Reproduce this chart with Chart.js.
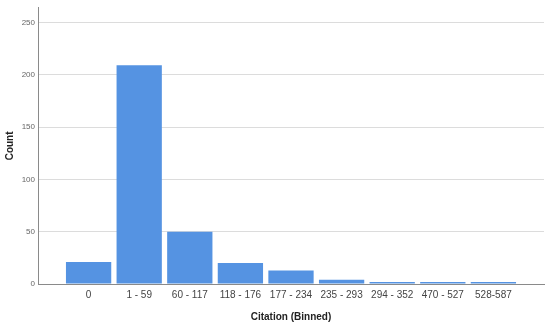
<!DOCTYPE html>
<html>
<head>
<meta charset="utf-8">
<script src="https://cdn.jsdelivr.net/npm/chart.js@4/dist/chart.umd.min.js"></script>
<style>
html,body{margin:0;padding:0;background:#fff;}
#wrap{width:550px;height:329px;position:relative;}
</style>
</head>
<body>
<div id="wrap"><canvas id="c" width="550" height="329"></canvas></div>
<script>
const categories = ["0", "1 - 59", "60 - 117", "118 - 176", "177 - 234", "235 - 293", "294 - 352", "470 - 527", "528-587"];
const counts = [21, 209, 50, 20, 13, 4, 2, 2, 2];
const yTicks = [0, 50, 100, 150, 200, 250];

const points = categories.map((c, i) => ({ x: i, y: counts[i] }));

new Chart(document.getElementById('c'), {
  type: 'bar',
  data: {
    datasets: [{
      data: points,
      backgroundColor: '#5593e2',
      borderWidth: 0,
      barPercentage: 0.895,
      categoryPercentage: 1.0
    }]
  },
  options: {
    responsive: false,
    animation: false,
    devicePixelRatio: 1,
    layout: { padding: { top: 5, right: 6, left: 0, bottom: 0 } },
    plugins: { legend: { display: false }, tooltip: { enabled: false } },
    scales: {
      x: {
        type: 'linear',
        min: -1,
        max: 9,
        offset: false,
        grid: { display: false, drawTicks: false },
        border: { display: true, color: '#8a8a8a', width: 1 },
        afterBuildTicks: (s) => { s.ticks = categories.map((c, i) => ({ value: i })); },
        afterFit: (s) => { s.height = 45; },
        ticks: {
          autoSkip: false,
          maxRotation: 0,
          padding: 5,
          color: '#444',
          font: { family: 'Liberation Sans, Arial, sans-serif', size: 10 },
          callback: (v) => categories[v] !== undefined ? categories[v] : ''
        },
        title: {
          display: true,
          text: 'Citation (Binned)',
          color: '#222',
          padding: { top: 6, bottom: 6 },
          font: { family: 'Liberation Sans, Arial, sans-serif', size: 10, weight: 'bold' }
        }
      },
      y: {
        min: 0,
        max: 264,
        grid: { color: '#dcdcdc', drawTicks: false },
        border: { display: true, color: '#8a8a8a', width: 1 },
        afterBuildTicks: (s) => { s.ticks = yTicks.map(v => ({ value: v })); },
        afterFit: (s) => { s.width = 38; },
        ticks: {
          padding: 3,
          color: '#666',
          font: { family: 'Liberation Sans, Arial, sans-serif', size: 8 }
        },
        title: {
          display: true,
          text: 'Count',
          color: '#222',
          padding: { top: 4, bottom: 0 },
          font: { family: 'Liberation Sans, Arial, sans-serif', size: 10, weight: 'bold' }
        }
      }
    }
  }
});
</script>
</body>
</html>
